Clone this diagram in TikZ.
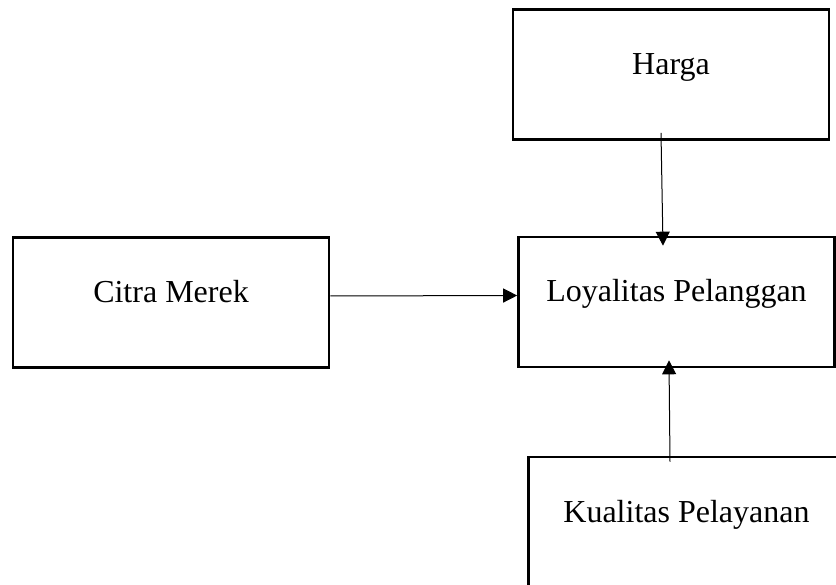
\documentclass[tikz,border=0pt]{standalone}
\usepackage{fontspec}
\setmainfont{Liberation Serif}
\usepackage{xcolor}
\usepackage{tikz}
\usetikzlibrary{positioning, arrows.meta}
\tikzset{
  varbox/.style={draw=black, line width=2.6pt, minimum width=316pt, minimum height=130pt,
                 inner sep=0pt, font=\fontsize{32}{38}\selectfont, text height=13pt, text depth=13pt},
  link/.style={line width=1pt, -{Triangle[length=14pt,width=14pt]}}
}

\begin{document}
\begin{tikzpicture}[x=1pt, y=-1pt]
  \useasboundingbox (0,0) rectangle (836,585);
  \clip (0,0) rectangle (836,585);
  \node[varbox] (harga) at (671,74.5) {Harga};
  \node[varbox] (citra) at (171,302.5) {Citra Merek};
  \node[varbox] (loyal) at (676.5,302) {Loyalitas Pelanggan};
  \node[varbox] (kual) at (686.5,522) {Kualitas Pelayanan};
  % panah ke variabel terikat
  \draw[link] ([yshift=6.5pt]citra.east) -- ([yshift=6.5pt]loyal.west);
  \draw[link] ([xshift=-10pt,yshift=8pt]harga.south) -- ([xshift=-13.5pt,yshift=-10pt]loyal.north);
  \draw[link] ([xshift=-16.5pt,yshift=-6pt]kual.north) -- ([xshift=-7.5pt,yshift=8pt]loyal.south);
\end{tikzpicture}
\end{document}
